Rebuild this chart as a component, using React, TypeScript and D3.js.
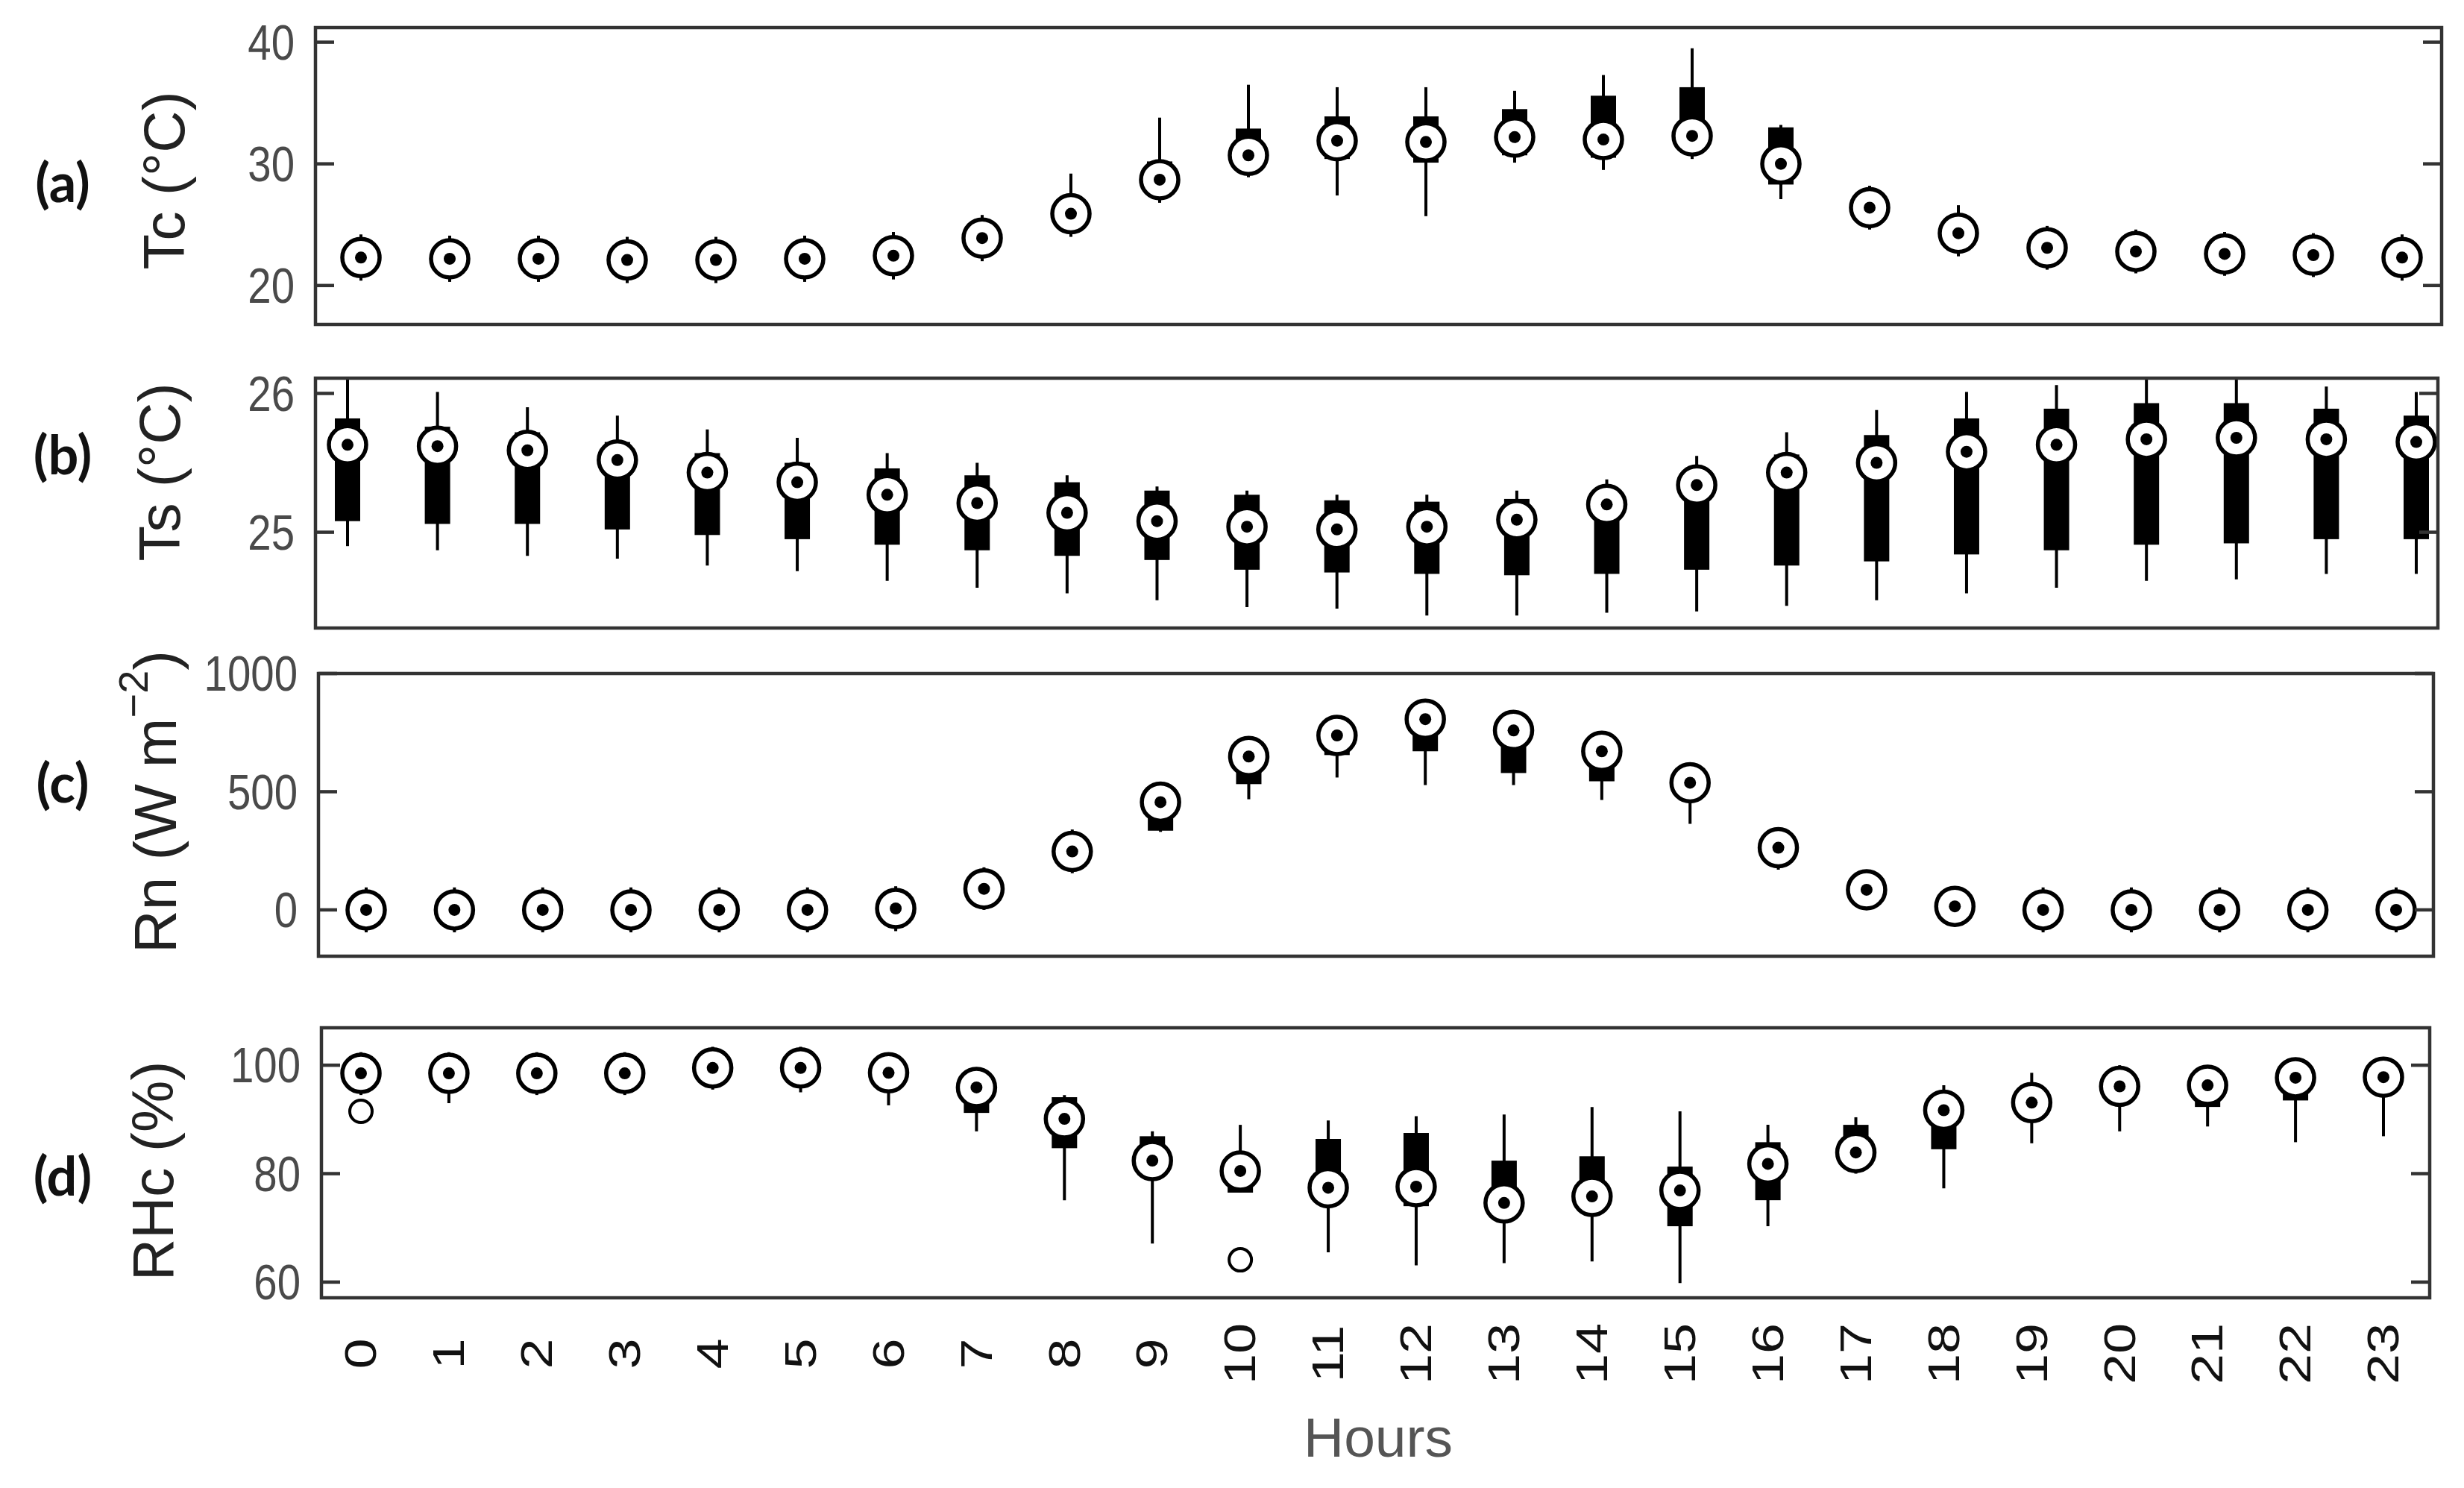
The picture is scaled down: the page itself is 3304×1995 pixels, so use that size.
import React from "react";
import * as d3 from "d3";

// ---------- categories ----------
const hourLabels = ["0","1","2","3","4","5","6","7","8","9","10","11","12","13","14","15","16","17","18","19","20","21","22","23"];

// ---------- (a) Tc (°C) ----------
const tcMed = [22.3,22.2,22.2,22.1,22.1,22.2,22.45,23.9,25.9,28.7,30.7,31.9,31.8,32.2,32.0,32.3,30.0,26.4,24.3,23.1,22.8,22.6,22.5,22.3];
const tcQ1  = [22.0,21.9,21.9,21.8,21.8,21.9,22.1,23.4,25.3,27.8,29.7,30.4,30.1,30.7,30.5,31.0,28.3,25.6,23.7,22.6,22.4,22.2,22.1,22.0];
const tcQ3  = [22.6,22.5,22.5,22.4,22.4,22.5,22.8,24.5,26.6,30.2,32.9,33.9,33.9,34.5,35.6,36.3,33.0,27.3,25.2,23.6,23.2,23.0,22.9,22.6];
const tcLo  = [20.4,20.3,20.3,20.2,20.2,20.3,20.5,22.0,24.0,26.8,28.9,27.4,25.7,30.1,29.5,30.4,27.1,24.6,22.4,21.3,21.0,20.8,20.7,20.4];
const tcHi  = [24.2,24.1,24.1,24.0,24.0,24.1,24.4,25.8,29.2,33.8,36.5,36.3,36.3,36.0,37.3,39.5,33.2,28.2,26.6,24.9,24.6,24.4,24.3,24.2];

// ---------- (b) Ts (°C) ----------
const tsMed = [25.63,25.62,25.59,25.52,25.43,25.36,25.27,25.21,25.14,25.08,25.04,25.02,25.04,25.09,25.20,25.34,25.43,25.50,25.58,25.63,25.67,25.68,25.67,25.65];
const tsQ1  = [25.08,25.06,25.06,25.02,24.98,24.95,24.91,24.87,24.83,24.80,24.73,24.71,24.70,24.69,24.70,24.73,24.76,24.79,24.84,24.87,24.91,24.92,24.95,24.95];
const tsQ3  = [25.82,25.76,25.72,25.65,25.57,25.50,25.46,25.41,25.36,25.30,25.27,25.23,25.22,25.24,25.30,25.45,25.56,25.70,25.82,25.89,25.93,25.93,25.89,25.84];
const tsLo  = [24.90,24.87,24.83,24.81,24.76,24.72,24.65,24.60,24.56,24.51,24.46,24.45,24.40,24.40,24.42,24.43,24.47,24.51,24.56,24.60,24.65,24.66,24.70,24.70];
const tsHi  = [26.15,26.01,25.90,25.84,25.74,25.68,25.57,25.50,25.41,25.33,25.30,25.27,25.27,25.30,25.38,25.55,25.72,25.88,26.01,26.06,26.15,26.15,26.05,26.01];

// ---------- (c) Rn (W m-2) ----------
const rnMed = [0,0,0,0,0,0,6,89,247,456,649,738,807,759,671,538,263,85,15,0,0,0,0,0];
const rnQ1  = [0,0,0,0,0,0,0,70,220,335,532,655,671,579,544,490,230,60,0,0,0,0,0,0];
const rnQ3  = [0,0,0,0,0,0,12,110,275,490,690,780,840,800,710,580,300,110,30,0,0,0,0,0];
const rnLo  = [-95,-95,-95,-95,-95,-95,-90,0,155,330,468,560,528,528,465,364,170,0,-70,-95,-95,-95,-95,-95];
const rnHi  = [95,95,95,95,95,95,100,180,340,530,730,820,880,840,750,620,345,170,100,95,95,95,95,95];

// ---------- (d) RHc (%) ----------
const rhMed = [98.5,98.5,98.5,98.5,99.5,99.5,98.6,95.9,90.1,82.4,80.5,77.4,77.6,74.6,75.8,76.9,81.8,83.9,91.7,93.1,96.1,96.3,97.7,97.8];
const rhQ1  = [97.5,97.5,97.5,97.5,98.5,98.5,97.0,91.2,84.7,80.0,76.5,74.6,74.0,72.0,73.0,70.3,75.1,81.0,84.5,90.5,93.0,92.3,93.5,95.0];
const rhQ3  = [99.5,99.3,99.3,99.3,100.0,100.0,99.5,97.5,94.1,86.9,83.0,86.4,87.5,82.4,83.2,81.3,85.8,89.0,94.0,95.5,98.0,98.0,99.0,99.0];
const rhLo  = [94.5,93.0,94.5,94.5,95.5,95.0,92.6,87.8,75.1,67.1,76.5,65.5,63.1,63.5,63.8,59.8,70.3,80.0,77.3,85.6,87.8,88.7,85.8,86.9];
const rhHi  = [102.4,102.4,102.4,102.4,103.4,103.4,100.5,99.5,94.5,87.8,89.0,89.8,90.6,90.9,92.3,91.5,89.0,90.4,96.3,98.6,100.0,100.0,100.5,100.5];
const rhOutHour = [0, 10];
const rhOutVal  = [91.5, 64.1];

// ---------- axis ticks ----------
const tcTicks = [20, 30, 40];
const tsTicks = [25, 26];
const rnTicks = [0, 500, 1000];
const rhTicks = [60, 80, 100];

const W = 3304;
const H = 1995;
const FONT = "'Liberation Sans', Arial, Helvetica, sans-serif";

type Cfg = {
  top: number; bottom: number; left: number; right: number;
  x0: number; x23: number; domain: [number, number];
  letter: string; letterY: number; label: React.ReactNode; labelY: number; labelX: number; labelSize: number;
};

function Panel(props: {
  id: string; cfg: Cfg; ticks: number[];
  med: number[]; q1: number[]; q3: number[]; lo: number[]; hi: number[];
  outH?: number[]; outV?: number[]; showX?: boolean;
}) {
  const { id, cfg, ticks, med, q1, q3, lo, hi, outH, outV, showX } = props;
  const y = d3.scaleLinear().domain(cfg.domain).range([cfg.bottom, cfg.top]);
  const x = d3.scaleLinear().domain([0, 23]).range([cfg.x0, cfg.x23]);
  const boxW = 34;
  const tickLen = 25;
  return (
    <g>
      <defs>
        <clipPath id={`clip-${id}`}>
          <rect x={cfg.left} y={cfg.top} width={cfg.right - cfg.left} height={cfg.bottom - cfg.top} />
        </clipPath>
      </defs>
      <g clipPath={`url(#clip-${id})`}>
        {hourLabels.map((h, i) => (
          <g key={h}>
            <line x1={x(i)} x2={x(i)} y1={y(lo[i])} y2={y(hi[i])} stroke="#000" strokeWidth={4} />
            <rect x={x(i) - boxW / 2} width={boxW} y={y(q3[i])} height={Math.max(0, y(q1[i]) - y(q3[i]))} fill="#000" />
            <circle cx={x(i)} cy={y(med[i])} r={25} fill="#fff" stroke="#000" strokeWidth={5.5} />
            <circle cx={x(i)} cy={y(med[i])} r={8} fill="#000" />
          </g>
        ))}
        {outH && outV && outH.map((h, k) => (
          <circle key={k} cx={x(h)} cy={y(outV[k])} r={15} fill="none" stroke="#000" strokeWidth={4} />
        ))}
      </g>
      <rect x={cfg.left} y={cfg.top} width={cfg.right - cfg.left} height={cfg.bottom - cfg.top} fill="none" stroke="#333" strokeWidth={4.5} />
      {ticks.map((t) => (
        <g key={t}>
          <line x1={cfg.left} x2={cfg.left + tickLen} y1={y(t)} y2={y(t)} stroke="#333" strokeWidth={4.5} />
          <line x1={cfg.right - tickLen} x2={cfg.right} y1={y(t)} y2={y(t)} stroke="#333" strokeWidth={4.5} />
          <text
            transform={`translate(${cfg.left - 28},${y(t)}) scale(0.94,1.12)`}
            textAnchor="end" dominantBaseline="central"
            fontFamily={FONT} fontSize={60} fill="#4a4a4a"
          >{t}</text>
        </g>
      ))}
      <text
        transform={`translate(${cfg.labelX},${cfg.labelY}) rotate(-90)`}
        textAnchor="middle" dominantBaseline="central"
        fontFamily={FONT} fontSize={cfg.labelSize} fill="#222"
      >{cfg.label}</text>
      <text x={84} y={cfg.letterY} textAnchor="middle" dominantBaseline="central"
        fontFamily="Lato, 'Open Sans', sans-serif" fontWeight={700} fontSize={72} fill="#111">{cfg.letter}</text>
      {showX && hourLabels.map((h, i) => (
        <text key={h}
          transform={`translate(${x(i)},1815) rotate(-90) scale(1.23,0.98)`}
          textAnchor="middle" dominantBaseline="central"
          fontFamily={FONT} fontSize={60} fill="#111"
        >{h}</text>
      ))}
    </g>
  );
}

const cfgA: Cfg = { top: 37, bottom: 435, left: 423, right: 3274, x0: 484, x23: 3221, domain: [16.8, 41.2],
  letter: "(a)", letterY: 243, label: "Tc (°C)", labelX: 220, labelY: 242, labelSize: 78 };
const cfgB: Cfg = { top: 507, bottom: 842, left: 423, right: 3269, x0: 466, x23: 3240, domain: [24.31, 26.11],
  letter: "(b)", letterY: 608, label: "Ts (°C)", labelX: 214, labelY: 633, labelSize: 78 };
const cfgC: Cfg = { top: 903, bottom: 1282, left: 427, right: 3263, x0: 491, x23: 3213, domain: [-196, 1000],
  letter: "(c)", letterY: 1048, label: (<>Rn (W m<tspan dy={-30} fontSize={56}>−2</tspan><tspan dy={30}>)</tspan></>), labelX: 208, labelY: 1075, labelSize: 80 };
const cfgD: Cfg = { top: 1378, bottom: 1740, left: 431, right: 3258, x0: 484, x23: 3196, domain: [57.1, 106.9],
  letter: "(d)", letterY: 1575, label: "RHc (%)", labelX: 205, labelY: 1570, labelSize: 78 };

export default function App() {
  return (
    <svg width={W} height={H} viewBox={`0 0 ${W} ${H}`}
      style={{ position: "absolute", left: 0, top: 0, background: "#fff" }}>
      <rect width={W} height={H} fill="#fff" />
      <Panel id="a" cfg={cfgA} ticks={tcTicks} med={tcMed} q1={tcQ1} q3={tcQ3} lo={tcLo} hi={tcHi} />
      <Panel id="b" cfg={cfgB} ticks={tsTicks} med={tsMed} q1={tsQ1} q3={tsQ3} lo={tsLo} hi={tsHi} />
      <Panel id="c" cfg={cfgC} ticks={rnTicks} med={rnMed} q1={rnQ1} q3={rnQ3} lo={rnLo} hi={rnHi} />
      <Panel id="d" cfg={cfgD} ticks={rhTicks} med={rhMed} q1={rhQ1} q3={rhQ3} lo={rhLo} hi={rhHi}
        outH={rhOutHour} outV={rhOutVal} showX />
      <text x={1848} y={1953} textAnchor="middle" fontFamily={FONT} fontSize={75} fill="#555">Hours</text>
    </svg>
  );
}
